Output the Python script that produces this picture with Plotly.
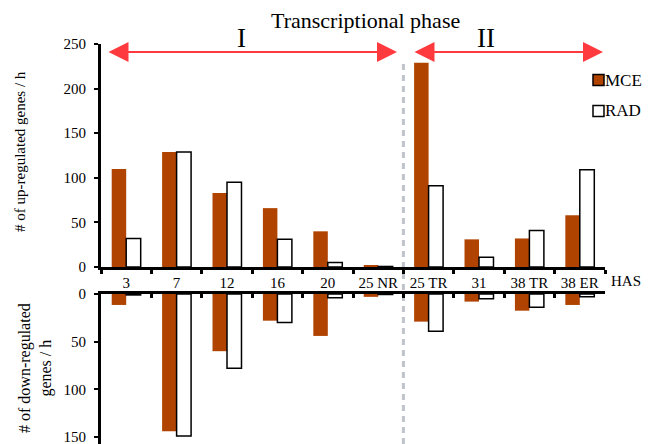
import plotly.graph_objects as go

categories = ["3", "7", "12", "16", "20", "25 NR", "25 TR", "31", "38 TR", "38 ER"]
up_mce = [110, 129, 83, 66, 40, 2, 229, 31, 32, 58]
up_rad = [32, 129, 95, 31, 5, 0.6, 91, 11, 41, 109]
down_mce = [11.5, 144, 60, 28, 44, 3, 29, 8, 17.5, 11.5]
down_rad = [1, 149, 78, 30, 4, 0.5, 39, 5, 14, 3]
up_ticks = [0, 50, 100, 150, 200, 250]
down_ticks = [0, 50, 100, 150]

# page has an 8px body margin; figure is sized so it fits the 665x444 window
OFF = 8
W, H = 665 - OFF, 444 - OFF
MCE_COLOR = "#B04300"
FONT = "Liberation Serif"


def px(x):
    return (x - OFF) / W


def py(y):
    return (H - (y - OFF)) / H


fig = go.Figure()
fig.add_trace(go.Bar(x=categories, y=up_mce, name="MCE", marker=dict(color=MCE_COLOR, line=dict(width=0)),
                     xaxis="x", yaxis="y"))
fig.add_trace(go.Bar(x=categories, y=up_rad, name="RAD", marker=dict(color="white", line=dict(color="black", width=1.5)),
                     xaxis="x", yaxis="y"))
fig.add_trace(go.Bar(x=categories, y=down_mce, name="MCE", marker=dict(color=MCE_COLOR, line=dict(width=0)),
                     xaxis="x2", yaxis="y2"))
fig.add_trace(go.Bar(x=categories, y=down_rad, name="RAD", marker=dict(color="white", line=dict(color="black", width=1.5)),
                     xaxis="x2", yaxis="y2"))

xdom = [px(101), px(605)]
axis_common = dict(showgrid=False, zeroline=False, showline=True, linecolor="black", automargin=False,
                   tickfont=dict(family=FONT, size=15, color="black"))

fig.update_layout(
    template="none",
    width=W, height=H,
    margin=dict(l=0, r=0, t=0, b=0, pad=0),
    paper_bgcolor="white", plot_bgcolor="rgba(0,0,0,0)",
    barmode="group", bargap=0.425, bargroupgap=0,
    font=dict(family=FONT, color="black"),
    showlegend=False,
    xaxis=dict(domain=xdom, anchor="y", type="category", linewidth=2.5, tickangle=0,
               ticks="outside", tickson="boundaries", ticklen=4, tickwidth=3, tickcolor="black",
               **axis_common),
    yaxis=dict(domain=[py(267), py(44)], anchor="x", range=[0, 250], tickvals=up_ticks,
               linewidth=3, ticks="outside", ticklen=4, tickwidth=2, tickcolor="black",
               ticklabelstandoff=5, **axis_common),
    xaxis2=dict(domain=xdom, anchor="y2", type="category", side="top", linewidth=2.5,
                showticklabels=False, ticks="inside", tickson="boundaries", ticklen=4, tickwidth=3,
                tickcolor="black", matches="x",
                **axis_common),
    yaxis2=dict(domain=[0, py(294)], anchor="x2", range=[157.4, 0], tickvals=down_ticks,
                linewidth=3, ticks="outside", ticklen=4, tickwidth=2, tickcolor="black",
                ticklabelstandoff=5, ticklabeloverflow="allow", **axis_common),
)

# dashed separator
fig.add_shape(type="line", xref="x", yref="paper", x0=5.5, x1=5.5, y0=0, y1=py(62),
              line=dict(color="#BFC3CA", width=3, dash="6px,5px"), layer="below")

# arrows (double-headed)
arrow_style = dict(showarrow=True, arrowhead=2, startarrowhead=2, arrowside="end+start",
                   arrowsize=2, startarrowsize=2, arrowwidth=2, arrowcolor="#FF3A3F",
                   standoff=0, startstandoff=0, text="")
fig.add_annotation(xref="paper", yref="paper", x=px(397), y=py(52), axref="pixel", ayref="pixel",
                   ax=-(397 - 107), ay=0, **arrow_style)
fig.add_annotation(xref="paper", yref="paper", x=px(603), y=py(52), axref="pixel", ayref="pixel",
                   ax=-(603 - 413), ay=0, **arrow_style)


def label(x, y, text, size, angle=0, xanchor="center"):
    fig.add_annotation(xref="paper", yref="paper", x=px(x), y=py(y), text=text, textangle=angle,
                       xanchor=xanchor, yanchor="middle", showarrow=False,
                       font=dict(family=FONT, size=size, color="black"))


label(365, 21, "Transcriptional phase", 22)
label(241, 38, "I", 27)
label(486, 38, "II", 27)
label(626, 281, "HAS", 15)
label(20, 152, "# of up-regulated genes / h", 15, angle=-90)
label(35, 368, "# of down-regulated<br>genes / h", 16, angle=-90)

# legend (manual)
for name, fill, yc in [("MCE", MCE_COLOR, 80), ("RAD", "white", 111)]:
    fig.add_shape(type="rect", xref="paper", yref="paper", x0=px(593), x1=px(604),
                  y0=py(yc + 5.5), y1=py(yc - 5.5), fillcolor=fill, line=dict(color="black", width=1.5))
    label(603, yc, name, 17, xanchor="left")

fig.write_html("out.html")
